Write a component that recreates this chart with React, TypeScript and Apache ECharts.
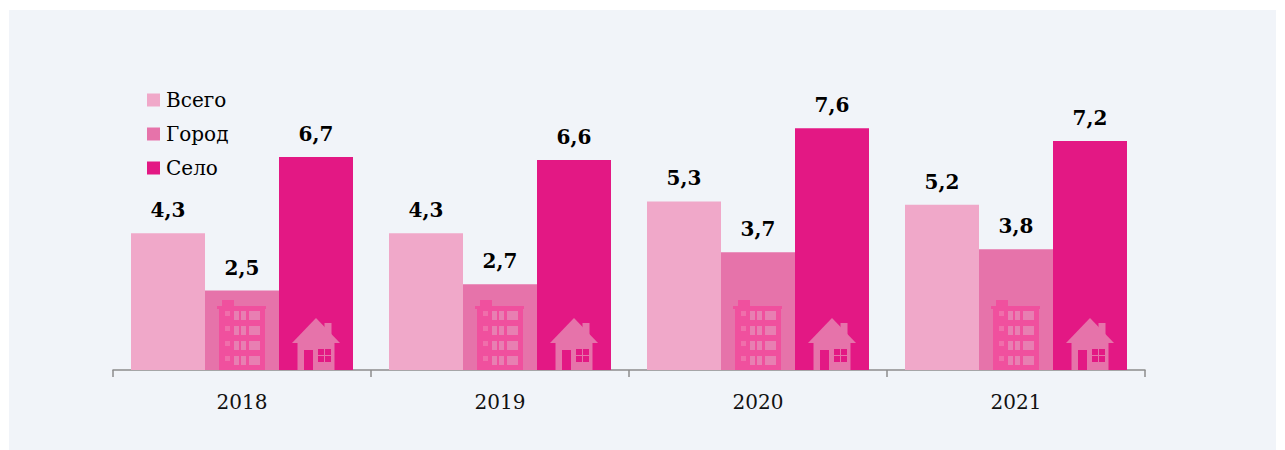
import React, { useEffect, useRef } from "react";
import * as echarts from "echarts";

const categories = ["2018", "2019", "2020", "2021"];
const seriesNames = ["Всего", "Город", "Село"];
const total = [4.3, 4.3, 5.3, 5.2];
const city = [2.5, 2.7, 3.7, 3.8];
const village = [6.7, 6.6, 7.6, 7.2];
const colors = ["#f0a8c9", "#e673aa", "#e31884"];
const FONT = "'DejaVu Serif', serif";
const BUILDING = "#f0509e";
const WIN_A = "#f06eab";
const WIN_B = "#e87fb2";
const HOUSE = "#e673aa";
const DOOR = "#e31884";

const rect = (x: number, y: number, w: number, h: number, fill: string) => ({
  type: "rect",
  shape: { x, y, width: w, height: h },
  style: { fill },
});

function renderIcons(_p: any, api: any) {
  const [cx, gy] = api.coord([api.value(0), 0]);
  const building: any[] = [
    rect(cx - 23, gy - 62, 46, 62, BUILDING),
    rect(cx - 25, gy - 64, 49, 3, BUILDING),
    rect(cx - 20, gy - 70, 12, 7, BUILDING),
  ];
  for (let r = 0; r < 4; r++) {
    const y = gy - 59 + r * 15;
    building.push(rect(cx - 17, y, 5, 5, WIN_A));
    building.push(rect(cx - 8, y, 5, 9, WIN_B));
    building.push(rect(cx - 1, y, 5, 9, WIN_B));
    building.push(rect(cx + 7, y, 11, 9, WIN_B));
  }
  const hx = cx + 74;
  const house: any[] = [
    rect(hx + 8.5, gy - 47, 7, 14, HOUSE),
    {
      type: "polygon",
      shape: { points: [[hx, gy - 52], [hx + 24, gy - 27], [hx - 24, gy - 27]] },
      style: { fill: HOUSE },
    },
    rect(hx - 18.5, gy - 27, 37, 27, HOUSE),
    rect(hx - 12, gy - 20, 9, 20, DOOR),
    rect(hx + 2, gy - 21, 6, 6, DOOR),
    rect(hx + 9, gy - 21, 6, 6, DOOR),
    rect(hx + 2, gy - 14, 6, 6, DOOR),
    rect(hx + 9, gy - 14, 6, 6, DOOR),
  ];
  return { type: "group", children: [...building, ...house] };
}

const barSeries = (name: string, data: number[], color: string) => ({
  type: "bar",
  name,
  data,
  barWidth: 74,
  barGap: 0,
  itemStyle: { color },
  label: {
    show: true,
    position: "top",
    distance: 13,
    fontFamily: FONT,
    fontWeight: "bold",
    fontSize: 20,
    color: "#000",
    formatter: (p: any) => String(p.value).replace(".", ","),
  },
});

export default function App() {
  const ref = useRef<HTMLDivElement>(null);
  useEffect(() => {
    document.body.style.margin = "0";
    const chart = echarts.init(ref.current!, null, { renderer: "svg" });
    chart.setOption({
      animation: false,
      grid: { left: 113, right: 140, top: 52, bottom: 80 },
      legend: {
        orient: "vertical",
        left: 142,
        top: 85,
        itemWidth: 13,
        itemHeight: 13,
        itemGap: 14,
        data: seriesNames.map((name) => ({ name, icon: "rect" })),
        textStyle: { fontFamily: FONT, fontSize: 20, color: "#000", padding: [0, 0, 0, 1] },
      },
      xAxis: {
        type: "category",
        data: categories,
        axisLine: { lineStyle: { color: "#8c8c8c", width: 1.5 } },
        axisTick: { show: true, length: 7, lineStyle: { color: "#8c8c8c", width: 1.5 } },
        axisLabel: { fontFamily: FONT, fontSize: 20, color: "#111", margin: 22 },
      },
      yAxis: { type: "value", min: 0, max: 10, show: false },
      series: [
        barSeries(seriesNames[0], total, colors[0]),
        barSeries(seriesNames[1], city, colors[1]),
        barSeries(seriesNames[2], village, colors[2]),
        {
          type: "custom",
          silent: true,
          clip: false,
          renderItem: renderIcons,
          encode: { x: 0, y: 1 },
          data: categories.map((c) => [c, 0]),
          z: 5,
        },
      ],
    });
    return () => chart.dispose();
  }, []);
  return (
    <div style={{ position: "relative", width: 1285, height: 450, background: "#fff" }}>
      <div style={{ position: "absolute", left: 9, top: 10, width: 1267, height: 440, background: "#f1f4f9" }} />
      <div ref={ref} style={{ position: "absolute", left: 0, top: 0, width: 1285, height: 450 }} />
    </div>
  );
}
